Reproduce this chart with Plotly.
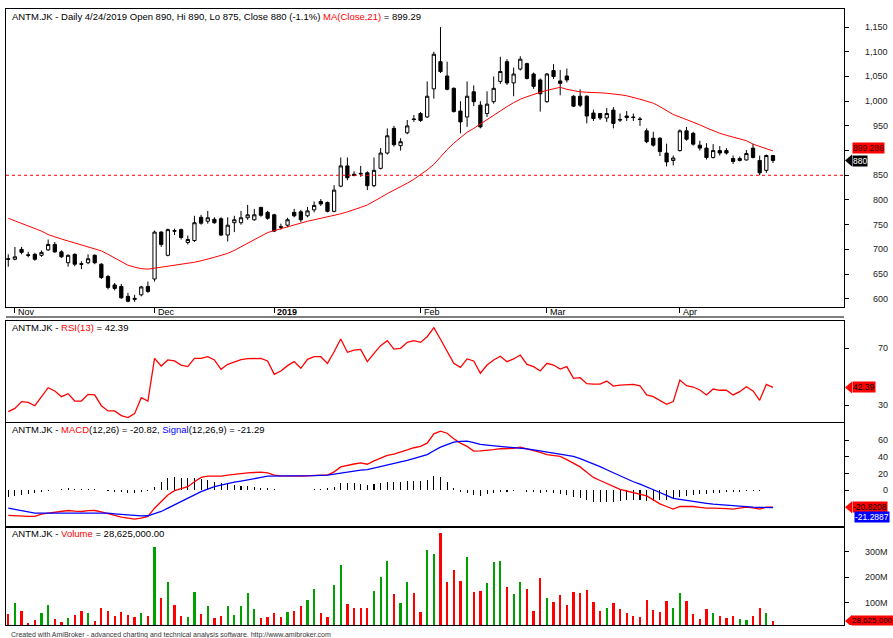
import plotly.graph_objects as go

# ---------------- data ----------------
ticker = "ANTM.JK"
bar_index = list(range(116))
month_ticks = [1, 22, 40, 62, 81, 101]
month_labels = ["Nov", "Dec", "<b>2019</b>", "Feb", "Mar", "Apr"]

open_ = [681, 680, 700, 689, 690, 688, 699, 710, 695, 673, 690, 671, 673, 688, 670, 645, 628, 625, 605, 601,
         608, 625, 640, 735, 688, 738, 740, 714, 718, 765, 757, 761, 762, 729, 754, 754, 764, 760, 785, 775,
         770, 746, 749, 775, 776, 768, 780, 797, 795, 777, 828, 869, 852, 854, 855, 829, 864, 895, 945, 910,
         936, 964, 975, 968, 1025, 1080, 1051, 1026, 980, 968, 1019, 992, 975, 999, 1040, 1080, 1037, 1065, 1076, 1055,
         1043, 999, 1062, 1041, 1051, 1010, 1010, 1010, 976, 975, 966, 982, 963, 970, 968, 964, 940, 925, 925, 895,
         880, 900, 940, 935, 911, 905, 886, 900, 900, 884, 880, 881, 905, 880, 860, 890]
high = [690, 705, 705, 695, 693, 698, 720, 715, 698, 690, 692, 676, 690, 690, 672, 648, 632, 630, 612, 608,
        626, 635, 738, 737, 742, 742, 742, 728, 768, 770, 778, 765, 765, 765, 768, 778, 790, 782, 786, 778,
        772, 752, 764, 782, 780, 786, 797, 802, 797, 830, 886, 886, 858, 869, 858, 886, 905, 945, 950, 925,
        962, 972, 978, 1040, 1100, 1150, 1080, 1028, 1000, 1040, 1032, 1000, 1020, 1050, 1090, 1085, 1068, 1091, 1078, 1058,
        1046, 1057, 1075, 1063, 1066, 1012, 1024, 1012, 983, 976, 986, 988, 975, 980, 975, 968, 945, 938, 927, 914,
        890, 943, 948, 938, 920, 915, 913, 909, 905, 890, 888, 901, 914, 890, 892, 890]
low = [665, 678, 690, 684, 677, 685, 697, 693, 683, 665, 666, 660, 670, 670, 640, 619, 617, 600, 593, 594,
       605, 612, 635, 705, 686, 729, 720, 710, 715, 750, 752, 752, 727, 716, 735, 750, 760, 758, 766, 760,
       735, 740, 745, 765, 755, 765, 775, 788, 775, 775, 826, 840, 848, 847, 820, 826, 862, 892, 908, 900,
       933, 958, 958, 966, 1005, 1057, 1022, 977, 935, 948, 990, 945, 968, 995, 1035, 1033, 1010, 1062, 1044, 1025,
       979, 997, 1045, 1012, 1038, 988, 988, 955, 960, 962, 958, 945, 958, 960, 960, 950, 915, 908, 889, 868,
       870, 898, 920, 910, 900, 882, 884, 890, 892, 873, 878, 880, 884, 850, 855, 875]
close = [680, 685, 694, 688, 680, 694, 710, 695, 685, 688, 670, 670, 681, 673, 643, 623, 621, 602, 595, 599,
         624, 615, 735, 710, 740, 737, 724, 720, 754, 753, 764, 754, 729, 749, 760, 764, 770, 770, 769, 763,
         737, 745, 760, 768, 760, 778, 789, 792, 777, 820, 869, 845, 850, 853, 829, 860, 895, 930, 912, 918,
         950, 963, 961, 1010, 1095, 1060, 1024, 979, 958, 1010, 999, 948, 994, 1026, 1060, 1037, 1055, 1085, 1046, 1030,
         1015, 1055, 1050, 1036, 1043, 990, 992, 970, 965, 966, 975, 955, 962, 967, 967, 963, 918, 911, 898, 877,
         885, 940, 923, 913, 905, 886, 900, 895, 895, 878, 884, 894, 886, 855, 890, 880]
ma21 = [763, 758, 753, 747, 742, 737, 730, 725, 721, 717, 713, 709, 705, 701, 697, 690, 683, 676, 668, 664,
        661, 660, 662, 664, 666, 667, 669, 671, 674, 677, 680, 684, 688, 692, 698, 705, 712, 719, 726, 734,
        738, 742, 745, 749, 753, 757, 760, 763, 765, 768, 772, 776, 780, 785, 790, 797, 805, 813, 820, 826,
        834, 842, 851, 861, 872, 888, 902, 915, 927, 937, 945, 954, 963, 972, 980, 989, 997, 1004, 1009, 1014,
        1018, 1022, 1025, 1028, 1024, 1021, 1019, 1018, 1018, 1017, 1016, 1015, 1013, 1011, 1008, 1004, 1000, 996, 989, 981,
        973, 968, 963, 957, 952, 946, 940, 935, 931, 927, 924, 920, 913, 908, 903, 899.29]
rsi13 = [25.3, 27.6, 32.4, 31.9, 29.5, 35.9, 42.2, 39.9, 35.9, 38.0, 32.8, 32.8, 37.5, 37.1, 29.5, 25.8, 25.8, 22.5, 21.1, 23.9,
         35.2, 32.8, 62.9, 57.5, 61.8, 61.1, 58.2, 57.1, 62.9, 62.9, 64.1, 61.8, 55.2, 58.7, 60.6, 62.0, 62.7, 62.9, 62.9, 61.1,
         51.6, 54.0, 57.8, 60.6, 55.9, 62.2, 64.1, 64.1, 59.4, 67.6, 76.6, 67.2, 68.8, 69.3, 60.6, 66.5, 71.9, 75.4, 69.5, 70.0,
         74.2, 75.4, 74.2, 78.2, 84.6, 76.4, 68.1, 59.4, 56.6, 62.5, 61.1, 52.4, 58.2, 61.8, 64.4, 60.6, 62.5, 65.3, 58.7, 57.1,
         54.0, 59.4, 58.2, 55.4, 57.1, 48.8, 49.3, 45.1, 44.8, 44.8, 46.9, 43.4, 44.1, 44.4, 44.6, 43.6, 37.1, 35.9, 33.3, 30.5,
         32.4, 47.6, 43.6, 42.7, 40.6, 37.1, 41.3, 40.4, 40.4, 37.1, 39.4, 42.9, 39.9, 33.3, 44.6, 42.39]
macd = [-30.8, -31.5, -32, -32, -32, -29.2, -28, -27.2, -26.5, -24.8, -25.5, -26, -25, -24.8, -26.5, -28.8, -30.5, -32.8, -34, -35.2,
        -34, -32, -22, -14, -6, -0.8, 2, 4, 10, 15.2, 16.8, 17, 16.8, 18, 19.2, 20, 20.8, 21.2, 21.6, 20.8,
        18, 17.2, 16.8, 16.8, 16.8, 17.2, 18, 18, 18, 22, 28, 30, 31.5, 32.8, 31.2, 35.2, 38.5, 42, 43.5, 45.6,
        48.5, 51.2, 52.8, 56.8, 68, 71.2, 68.8, 62, 56.8, 52.8, 47.2, 47.5, 48, 49, 50, 50.2, 50.4, 52, 50, 48,
        45.5, 42.8, 42, 40.8, 36.8, 32.5, 28, 21.5, 15.2, 11.5, 8, 4.5, 0.8, -1.2, -3.2, -5, -7.2, -12, -16.8, -20,
        -23.2, -20, -20, -20, -21, -22, -22, -22, -22.5, -23.2, -22, -20.8, -21.6, -23.2, -20.8, -20.82]
signal = [-22, -23.6, -25.2, -26.6, -28, -28, -28, -28, -27.8, -27.5, -27.3, -27.2, -27.4, -27.6, -27.8, -28, -28.8, -29.6, -30.4, -31.2,
          -31.4, -31.2, -29, -26, -22, -18, -14, -10, -6, -2, 1, 4, 6, 8, 9.5, 10.8, 12, 13.6, 15.2, 16.8,
          16.8, 16.8, 16.8, 17, 17.1, 17.2, 17.5, 17.8, 18, 19.3, 20.6, 22, 23, 24, 24.8, 26.5, 28.2, 30, 32, 34,
          36, 38.2, 40.5, 42.8, 47.5, 52, 55, 58, 58.8, 59.2, 57.5, 55.2, 54.3, 53.5, 52.8, 52.3, 51.8, 51.2, 49.8, 48.5,
          47.2, 46.2, 45.1, 44, 42.4, 40.8, 38, 35, 32, 28.3, 24.5, 20.8, 17.2, 13.6, 10, 7, 3.8, 0.8, -3, -6.6,
          -10, -11.3, -12.7, -14, -15, -16.1, -17.2, -17.9, -18.5, -19.2, -19.7, -20.2, -20.8, -21, -21.2, -21.29]
macd_hist = [-8, -7, -6, -5, -4, -2, -1, 0.5, 1, 2, 1.5, 1, 1.5, 1, 0, -1, -2, -3, -3.5, -4,
             -3, -1, 4, 10, 14, 16, 15, 15, 14, 13, 12, 10, 8, 7, 6, 5, 4.5, 4, 3, 2,
             1, 0, -0.5, 0.5, 0, 0.5, 1, 1.5, 2, 4, 8, 8, 8, 7, 6, 7, 9, 10, 10, 10,
             11, 11, 11, 12, 17, 16, 10, 3, -2, -4, -6, -7, -5, -4, -3, -2, -1, 0, -2, -3,
             -4, -3, -4, -5, -6, -8, -10, -12, -15, -15, -15, -14, -13, -12, -12, -12, -13, -13, -12, -12,
             -11, -9, -7, -6, -5, -5, -4, -3.5, -3, -3, -2, -1.5, -1, -1.5, -0.5, 0.5]
volume_m = [55, 98, 68, 22, 33, 59, 92, 37, 26, 39, 52, 68, 59, 29, 78, 68, 50, 63, 52, 46,
            59, 50, 320, 118, 183, 92, 50, 46, 144, 55, 88, 42, 50, 88, 52, 89, 137, 76, 42, 44,
            59, 46, 63, 68, 88, 110, 154, 59, 46, 170, 248, 94, 78, 78, 78, 146, 203, 264, 133, 101,
            183, 137, 63, 307, 290, 372, 183, 229, 186, 281, 144, 146, 176, 259, 264, 163, 133, 180, 153, 68,
            196, 120, 105, 131, 92, 141, 137, 150, 102, 69, 78, 98, 75, 61, 48, 46, 110, 71, 63, 107,
            78, 139, 107, 56, 37, 76, 59, 50, 42, 50, 35, 33, 48, 81, 59, 28.625]
price_ticks = [600, 650, 700, 750, 800, 850, 900, 950, 1000, 1050, 1100, 1150]
price_labels_hidden = [900]   # covered by the MA value box in the original
rsi_ticks = [30, 70]
macd_ticks = [0, 20, 40, 60]
vol_ticks_m = [100, 200, 300]
support_level = 850

# ---------------- layout helpers ----------------
W, H = 893, 638
L, R, T, B = 6, 49, 9, 13
PW, PH = W - L - R, H - T - B
FONT = "Liberation Sans, Arial, sans-serif"


def py(p):  # pixel row -> paper y
    return (H - B - p) / PH


def pxx(p):  # pixel col -> paper x
    return (p - L) / PW


volume = [v * 1e6 for v in volume_m]
vol_colors = ["#00a000" if c >= o else "#ff0000" for o, c in zip(open_, close)]

fig = go.Figure()

fig.add_trace(go.Candlestick(
    x=bar_index, open=open_, high=high, low=low, close=close,
    increasing=dict(line=dict(color="black", width=1), fillcolor="white"),
    decreasing=dict(line=dict(color="black", width=1), fillcolor="black"),
    whiskerwidth=0, xaxis="x", yaxis="y", showlegend=False, hoverinfo="skip"))
fig.add_trace(go.Scatter(x=bar_index, y=ma21, mode="lines", line=dict(color="#ff0000", width=1),
                         xaxis="x", yaxis="y", showlegend=False, hoverinfo="skip"))

fig.add_trace(go.Scatter(x=bar_index, y=rsi13, mode="lines", line=dict(color="#ff0000", width=1.3),
                         xaxis="x2", yaxis="y2", showlegend=False, hoverinfo="skip"))

fig.add_trace(go.Bar(x=bar_index, y=macd_hist, width=0.16, marker=dict(color="black", line=dict(width=0)),
                     xaxis="x3", yaxis="y3", showlegend=False, hoverinfo="skip"))
fig.add_trace(go.Scatter(x=bar_index, y=macd, mode="lines", line=dict(color="#ff0000", width=1.3),
                         xaxis="x3", yaxis="y3", showlegend=False, hoverinfo="skip"))
fig.add_trace(go.Scatter(x=bar_index, y=signal, mode="lines", line=dict(color="#0000ff", width=1.3),
                         xaxis="x3", yaxis="y3", showlegend=False, hoverinfo="skip"))

fig.add_trace(go.Bar(x=bar_index, y=volume, width=0.34, marker=dict(color=vol_colors, line=dict(width=0)),
                     xaxis="x4", yaxis="y4", showlegend=False, hoverinfo="skip"))

xr = [-0.34, 125.68]
axline = dict(showline=True, mirror=True, linecolor="black", linewidth=1, showgrid=False, zeroline=False)
xcommon = dict(range=xr, fixedrange=True, **axline)

fig.update_layout(
    width=W, height=H, margin=dict(l=L, r=R, t=T, b=B, autoexpand=False),
    paper_bgcolor="white", plot_bgcolor="white", font=dict(family=FONT, size=9, color="black"),
    bargap=0,
    xaxis=dict(domain=[0, 1], anchor="y", tickmode="array", tickvals=month_ticks, ticks="outside",
               ticklen=5, tickcolor="black", showticklabels=False, rangeslider=dict(visible=False), **xcommon),
    xaxis2=dict(domain=[0, 1], anchor="y2", matches="x", showticklabels=False, ticks="", **xcommon),
    xaxis3=dict(domain=[0, 1], anchor="y3", matches="x", showticklabels=False, ticks="", **xcommon),
    xaxis4=dict(domain=[0, 1], anchor="y4", matches="x", showticklabels=False, ticks="", **xcommon),
    yaxis=dict(domain=[py(306.7), 1], anchor="x", side="right", range=[584, 1186.6], tickvals=price_ticks,
               ticks="outside", ticklen=4, tickcolor="black", showticklabels=False, fixedrange=True, **axline),
    yaxis2=dict(domain=[py(422), py(321)], anchor="x2", side="right", range=[18, 89.3], tickvals=rsi_ticks,
                ticks="outside", ticklen=4, tickcolor="black", showticklabels=False, fixedrange=True, **axline),
    yaxis3=dict(domain=[py(527), py(423.3)], anchor="x3", side="right", range=[-44.8, 80.8], tickvals=macd_ticks,
                ticks="outside", ticklen=4, tickcolor="black", showticklabels=False, fixedrange=True, **axline),
    yaxis4=dict(domain=[0, py(527)], anchor="x4", side="right", range=[12.9e6, 397e6],
                tickvals=[v * 1e6 for v in vol_ticks_m],
                ticks="outside", ticklen=4, tickcolor="black", showticklabels=False, fixedrange=True, **axline),
)

ann = []
# right-hand tick labels, right aligned
for v in price_ticks:
    if v in price_labels_hidden:
        continue
    ann.append(dict(x=1, xref="paper", xshift=46, xanchor="right", y=v, yref="y", yanchor="middle",
                    text=f"{v:,}", showarrow=False, font=dict(size=9, color="#222")))
for v in rsi_ticks:
    ann.append(dict(x=1, xref="paper", xshift=46, xanchor="right", y=v, yref="y2", yanchor="middle",
                    text=str(v), showarrow=False, font=dict(size=9, color="#222")))
for v in macd_ticks:
    ann.append(dict(x=1, xref="paper", xshift=46, xanchor="right", y=v, yref="y3", yanchor="middle",
                    text=str(v), showarrow=False, font=dict(size=9, color="#222")))
for v in vol_ticks_m:
    ann.append(dict(x=1, xref="paper", xshift=46, xanchor="right", y=v * 1e6, yref="y4", yanchor="middle",
                    text=f"{v}M", showarrow=False, font=dict(size=9, color="#222")))

# month labels, left aligned after tick
for t, lab in zip(month_ticks, month_labels):
    ann.append(dict(x=t, xref="x", xshift=1, xanchor="left", y=py(312), yref="paper", yanchor="middle",
                    text=lab, showarrow=False, font=dict(size=9, color="black")))

pct = (close[-1] - close[-2]) / close[-2] * 100
titles = [
    (py(16.7), f"{ticker} - Daily 4/24/2019 Open {open_[-1]}, Hi {high[-1]}, Lo {low[-1]}, Close {close[-1]} ({pct:.1f}%) "
               f"<span style='color:#ff0000'>MA(Close,21)</span> = {ma21[-1]:.2f}"),
    (py(327.7), f"{ticker} - <span style='color:#ff0000'>RSI(13)</span> = {rsi13[-1]:.2f}"),
    (py(429.3), f"{ticker} - <span style='color:#ff0000'>MACD</span>(12,26) = {macd[-1]:.2f}, "
                f"<span style='color:#0000ff'>Signal</span>(12,26,9) = {signal[-1]:.2f}"),
    (py(533.3), f"{ticker} - <span style='color:#ff0000'>Volume</span> = {volume_m[-1] * 1e6:,.2f}"),
]
for yy, txt in titles:
    ann.append(dict(x=pxx(10), xref="paper", xanchor="left", y=yy, yref="paper", yanchor="middle",
                    text=txt, showarrow=False, font=dict(size=9.5, color="black")))

ann.append(dict(x=pxx(9), xref="paper", xanchor="left", y=py(634.5), yref="paper", yanchor="middle",
                text="Created with AmiBroker - advanced charting and technical analysis software. http://www.amibroker.com",
                showarrow=False, font=dict(size=7, color="#333")))


# value boxes on the right
def vbox(y, yref, text, bg, fg, yshift=0, xshift=8, size=8.5):
    return dict(x=1, xref="paper", xshift=xshift, xanchor="left", y=y, yref=yref, yanchor="middle", yshift=yshift,
                text=text, showarrow=False, bgcolor=bg, borderpad=0, font=dict(size=size, color=fg))


ann.append(vbox(ma21[-1], "y", "899.286", "#ff0000", "#400000", yshift=3))
ann.append(vbox(close[-1], "y", f"{close[-1]}", "black", "white", yshift=-1))
ann.append(vbox(rsi13[-1], "y2", f"{rsi13[-1]:.2f}", "#ff0000", "black"))
ann.append(vbox(macd[-1], "y3", "-20.8208", "#ff0000", "black"))
ann.append(vbox(signal[-1], "y3", "-21.2887", "#0000ff", "white", yshift=-9, xshift=10))
ann.append(vbox(volume_m[-1] * 1e6, "y4", f"{volume_m[-1] * 1e6:,.0f}", "#ff0000", "black", xshift=7, size=8))

fig.update_layout(annotations=ann)

shapes = [
    dict(type="line", xref="paper", x0=0, x1=1, yref="y", y0=support_level, y1=support_level,
         line=dict(color="#ff0000", width=1, dash="3px,3px")),
    dict(type="line", xref="paper", x0=0, x1=1, yref="paper", y0=py(317), y1=py(317),
         line=dict(color="black", width=1)),
]


def arrow(y, yref, color):
    return dict(type="path", xref="paper", xsizemode="pixel", xanchor=1, yref=yref, ysizemode="pixel", yanchor=y,
                path="M 1,0 L 8,6 L 8,-6 Z", fillcolor=color, line=dict(width=0))


shapes += [arrow(close[-1], "y", "black"), arrow(rsi13[-1], "y2", "#ff0000"),
           arrow(macd[-1], "y3", "#ff0000"), arrow(volume_m[-1] * 1e6, "y4", "#ff0000")]
fig.update_layout(shapes=shapes)

fig.write_html("out.html", config={"displayModeBar": False, "staticPlot": True},
               post_script="document.body.style.margin='0';document.body.style.overflow='hidden';")
